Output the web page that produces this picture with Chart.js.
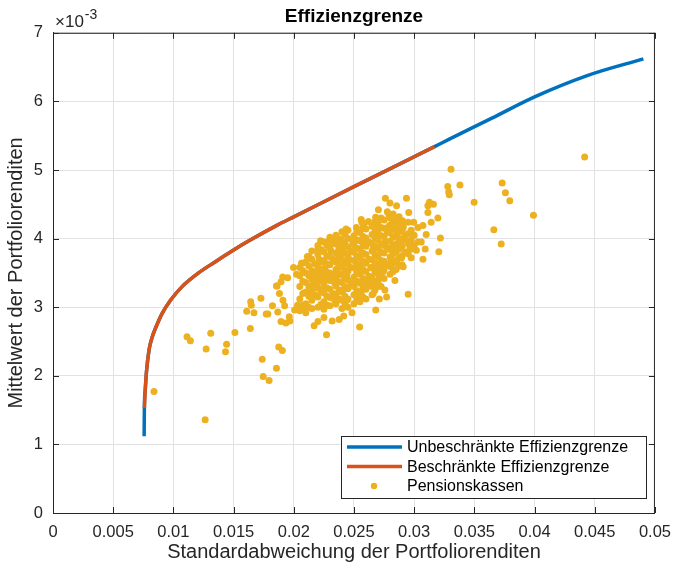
<!DOCTYPE html>
<html lang="de">
<head>
<meta charset="utf-8">
<title>Effizienzgrenze</title>
<script src="https://cdn.jsdelivr.net/npm/chart.js"></script>
<style>
  html, body { margin: 0; padding: 0; background: #fff; }
  #wrap { width: 681px; height: 564px; position: relative; }
</style>
</head>
<body>
<div id="wrap"><canvas id="chart"></canvas></div>
<script>
// Efficient frontier: sigma on x, mean return (in units of 1e-3) on y
const frontSigma = [0.00757, 0.00759, 0.00766, 0.00776, 0.00798, 0.00825, 0.00853, 0.00907, 0.00976, 0.01072,
                    0.01209, 0.01346, 0.01497, 0.0162, 0.01867, 0.02004, 0.02525, 0.03169, 0.03292, 0.0365,
                    0.04005, 0.04443, 0.04904];
const frontMu    = [1.12, 1.53, 1.79, 2.05, 2.38, 2.57, 2.70, 2.91, 3.10, 3.30,
                    3.50, 3.66, 3.83, 3.96, 4.20, 4.32, 4.78, 5.34, 5.45, 5.76,
                    6.07, 6.38, 6.62];

// constrained frontier (same curve, shorter range)
const constrSigma = [0.00759, 0.00766, 0.00776, 0.00798, 0.00825, 0.00853, 0.00907, 0.00976, 0.01072,
                     0.01209, 0.01346, 0.01497, 0.0162, 0.01867, 0.02004, 0.02525, 0.03169];
const constrMu    = [1.53, 1.79, 2.05, 2.38, 2.57, 2.70, 2.91, 3.10, 3.30,
                     3.50, 3.66, 3.83, 3.96, 4.20, 4.32, 4.78, 5.34];

// pension funds, outer points [sigma, mu]
const kassenRand = [
  [0.00839,1.77],[0.01264,1.36],[0.01113,2.57],[0.01141,2.51],[0.01310,2.62],[0.01272,2.39],[0.01442,2.46],
  [0.01433,2.35],[0.01511,2.63],[0.01639,2.69],[0.01738,2.24],[0.01746,1.99],[0.01795,1.93],[0.01856,2.11],
  [0.01875,2.42],[0.01905,2.37],[0.01727,3.13],[0.01609,2.94],[0.01669,2.92],[0.01642,3.08],[0.01647,3.03],
  [0.01771,2.90],[0.01785,2.90],[0.01823,3.02],[0.01867,2.93],[0.01856,3.31],[0.01881,3.20],[0.01910,3.10],
  [0.01924,3.02],[0.01894,2.79],[0.01935,2.77],[0.01963,2.86],[0.01968,2.80],[0.01998,3.58],[0.02023,3.48],
  [0.02031,3.03],[0.02081,2.99],[0.02007,2.96],[0.02064,3.64],[0.02113,3.74],[0.02169,2.73],[0.02201,2.79],
  [0.02272,2.60],[0.02251,2.85],[0.02319,2.80],[0.02377,2.82],[0.02415,2.87],[0.02484,2.92],[0.02547,2.71],
  [0.02681,2.96],[0.02711,3.12],[0.02771,3.15],[0.02950,3.19],[0.02840,3.39],[0.02757,3.25],[0.02621,3.37],
  [0.02593,3.35],[0.02695,3.54],[0.02744,3.52],[0.02807,3.59],[0.02909,3.59],[0.02854,3.65],[0.03073,3.70],
  [0.02895,3.72],[0.03018,3.83],[0.02963,3.85],[0.03092,3.85],[0.03205,3.81],[0.03032,3.95],[0.03059,3.95],
  [0.02963,3.92],[0.03218,4.01],[0.03100,4.06],[0.03032,4.16],[0.03073,4.19],[0.03141,4.24],[0.03197,4.30],
  [0.03114,4.38],[0.02955,4.38],[0.03127,4.53],[0.03160,4.50],[0.03114,4.48],[0.02936,4.59],[0.02761,4.59],
  [0.02799,4.52],[0.02854,4.48],[0.02703,4.42],[0.02777,4.39],[0.02790,4.35],[0.02566,4.24],[0.02903,4.26],
  [0.02950,4.24],[0.02996,4.24],[0.02434,4.14],[0.02223,3.97],[0.02305,3.91],[0.02393,3.98],[0.02127,3.74],
  [0.02072,3.64],[0.01894,3.37],[0.01861,3.31],[0.01908,3.44],[0.01949,3.43],[0.03279,4.76],[0.03287,4.68],
  [0.03292,4.64],[0.03306,5.01],[0.03380,4.78],[0.03498,4.53],[0.03731,4.81],[0.03758,4.67],[0.03794,4.55],
  [0.03991,4.34],[0.03662,4.13],[0.03723,3.92],[0.04416,5.19]
];

// pension funds, dense core [sigma, mu]
const kassenKern = [
  [0.0205,2.95],[0.0205,3.12],[0.0205,3.30],[0.0205,3.46],[0.0205,3.58],
  [0.0210,2.92],[0.0210,3.05],[0.0210,3.22],[0.0210,3.36],[0.0210,3.50],[0.0210,3.66],
  [0.0215,2.98],[0.0215,3.10],[0.0215,3.24],[0.0215,3.41],[0.0215,3.53],[0.0215,3.70],[0.0215,3.82],
  [0.0220,3.00],[0.0220,3.15],[0.0220,3.28],[0.0220,3.37],[0.0220,3.48],[0.0220,3.60],[0.0220,3.77],[0.0220,3.90],
  [0.0225,2.97],[0.0225,3.08],[0.0225,3.21],[0.0225,3.33],[0.0225,3.45],[0.0225,3.56],[0.0225,3.68],[0.0225,3.81],[0.0225,3.95],
  [0.0230,3.02],[0.0230,3.14],[0.0230,3.26],[0.0230,3.39],[0.0230,3.50],[0.0230,3.62],[0.0230,3.73],[0.0230,3.86],[0.0230,4.02],
  [0.0235,3.05],[0.0235,3.18],[0.0235,3.31],[0.0235,3.42],[0.0235,3.55],[0.0235,3.66],[0.0235,3.79],[0.0235,3.92],[0.0235,4.05],
  [0.0240,2.98],[0.0240,3.10],[0.0240,3.22],[0.0240,3.36],[0.0240,3.47],[0.0240,3.59],[0.0240,3.70],[0.0240,3.84],[0.0240,3.96],[0.0240,4.10],
  [0.0245,3.00],[0.0245,3.12],[0.0245,3.27],[0.0245,3.40],[0.0245,3.52],[0.0245,3.63],[0.0245,3.75],[0.0245,3.88],[0.0245,4.00],[0.0245,4.12],
  [0.0250,3.05],[0.0250,3.18],[0.0250,3.30],[0.0250,3.44],[0.0250,3.57],[0.0250,3.68],[0.0250,3.80],[0.0250,3.91],[0.0250,4.04],[0.0252,4.16],
  [0.0255,3.08],[0.0255,3.20],[0.0255,3.35],[0.0255,3.48],[0.0255,3.60],[0.0255,3.72],[0.0255,3.85],[0.0255,3.97],[0.0255,4.09],[0.0256,4.28],
  [0.0258,4.20],[0.0260,3.12],[0.0260,3.26],[0.0260,3.38],[0.0260,3.52],[0.0260,3.64],[0.0260,3.77],[0.0260,3.89],[0.0260,4.01],[0.0260,4.14],
  [0.0262,4.25],[0.0265,3.18],[0.0265,3.30],[0.0265,3.44],[0.0265,3.57],[0.0265,3.69],[0.0265,3.82],[0.0265,3.93],[0.0265,4.06],[0.0265,4.18],
  [0.0268,4.31],[0.0270,3.36],[0.0270,3.49],[0.0270,3.61],[0.0270,3.73],[0.0270,3.86],[0.0270,3.98],[0.0270,4.10],[0.0270,4.21],[0.0272,4.28],
  [0.0275,3.42],[0.0275,3.55],[0.0275,3.67],[0.0275,3.79],[0.0275,3.90],[0.0275,4.03],[0.0275,4.15],[0.0275,4.27],
  [0.0280,3.48],[0.0280,3.60],[0.0280,3.73],[0.0280,3.84],[0.0280,3.96],[0.0280,4.08],[0.0280,4.20],[0.0280,4.30],
  [0.0285,3.55],[0.0285,3.68],[0.0285,3.80],[0.0285,3.92],[0.0285,4.04],[0.0285,4.16],[0.0285,4.27],
  [0.0290,3.62],[0.0290,3.75],[0.0290,3.88],[0.0290,4.00],[0.0290,4.12],[0.0290,4.22],
  [0.0295,3.78],[0.0295,3.93],[0.0295,4.07],[0.0300,3.90],[0.0300,4.05],
  [0.02175,3.18],[0.02175,3.45],[0.02175,3.63],[0.02325,3.20],[0.02325,3.47],[0.02325,3.70],[0.02325,3.98],
  [0.02475,3.35],[0.02475,3.58],[0.02475,3.82],[0.02625,3.45],[0.02625,3.70],[0.02625,3.95],
  [0.02775,3.63],[0.02775,3.87],[0.02775,4.10],[0.02925,3.80],[0.02925,4.05]
];

// pension funds, dense core, in-between points [sigma, mu]
const kassenKern2 = [
  [0.02075,3.03],[0.02075,3.20],[0.02075,3.38],[0.02075,3.53],
  [0.02125,3.00],[0.02125,3.16],[0.02125,3.31],[0.02125,3.46],[0.02125,3.60],
  [0.02225,3.04],[0.02225,3.22],[0.02225,3.40],[0.02225,3.52],[0.02225,3.66],[0.02225,3.84],
  [0.02275,3.03],[0.02275,3.16],[0.02275,3.28],[0.02275,3.40],[0.02275,3.51],[0.02275,3.63],[0.02275,3.75],[0.02275,3.90],
  [0.02375,3.12],[0.02375,3.25],[0.02375,3.37],[0.02375,3.49],[0.02375,3.61],[0.02375,3.74],[0.02375,3.86],[0.02375,4.00],
  [0.02425,3.05],[0.02425,3.16],[0.02425,3.30],[0.02425,3.42],[0.02425,3.54],[0.02425,3.66],[0.02425,3.79],[0.02425,3.92],[0.02425,4.06],
  [0.02525,3.12],[0.02525,3.24],[0.02525,3.38],[0.02525,3.51],[0.02525,3.63],[0.02525,3.74],[0.02525,3.86],[0.02525,3.98],[0.02525,4.10],
  [0.02575,3.15],[0.02575,3.28],[0.02575,3.42],[0.02575,3.55],[0.02575,3.67],[0.02575,3.79],[0.02575,3.92],[0.02575,4.03],[0.02575,4.15],
  [0.02675,3.25],[0.02675,3.38],[0.02675,3.51],[0.02675,3.64],[0.02675,3.77],[0.02675,3.89],[0.02675,4.01],[0.02675,4.13],[0.02675,4.25],
  [0.02725,3.30],[0.02725,3.43],[0.02725,3.55],[0.02725,3.68],[0.02725,3.80],[0.02725,3.92],[0.02725,4.04],[0.02725,4.16],[0.02725,4.30],
  [0.02825,3.52],[0.02825,3.65],[0.02825,3.78],[0.02825,3.90],[0.02825,4.02],[0.02825,4.14],[0.02825,4.25],[0.02825,4.36],
  [0.02875,3.60],[0.02875,3.72],[0.02875,3.85],[0.02875,3.98],[0.02875,4.10],[0.02875,4.20],[0.02875,4.32],
  [0.02975,3.72],[0.02975,3.85],[0.02975,3.98],[0.02975,4.12]
];

// pension funds, dense core, extra filling [sigma, mu]
const kassenKern3 = [
  [0.02160,3.33],[0.02190,3.52],[0.02210,3.70],[0.02240,3.26],[0.02260,3.58],[0.02290,3.44],[0.02310,3.82],
  [0.02340,3.35],[0.02360,3.55],[0.02390,3.80],[0.02410,3.25],[0.02440,3.46],[0.02460,3.70],[0.02490,3.95],
  [0.02510,3.36],[0.02540,3.54],[0.02560,3.78],[0.02590,3.98],[0.02610,3.32],[0.02640,3.58],[0.02660,3.85],
  [0.02690,4.05],[0.02710,3.44],[0.02740,3.62],[0.02760,3.96],[0.02790,4.18],[0.02810,3.70],[0.02840,3.87],
  [0.02860,4.08],[0.02890,3.93],[0.02910,4.17],[0.02940,3.97],[0.02340,3.10],[0.02440,3.10],[0.02560,3.22],
  [0.02660,3.20],[0.02390,3.93],[0.02290,3.96],[0.02200,3.84],[0.02690,3.30]
];

const legendLabels = ['Unbeschränkte Effizienzgrenze', 'Beschränkte Effizienzgrenze', 'Pensionskassen'];
const colBlue = '#0072BD', colRed = '#D95319', colYellow = '#EDB120';
const axisCol = '#262626';
const fontFam = "'Liberation Sans', Arial, Helvetica, sans-serif";

Chart.defaults.font.family = fontFam;

function toPoints(xs, ys) {
  return xs.map((x, i) => ({ x: x, y: ys[i] }));
}
const kassenPts = kassenRand.concat(kassenKern, kassenKern2, kassenKern3).map(p => ({ x: p[0], y: p[1] }));

// box, inner ticks, exponent and legend (MATLAB look)
const matlabBox = {
  id: 'matlabBox',
  afterDraw(chart) {
    const ctx = chart.ctx;
    const a = chart.chartArea;
    const xs = chart.scales.x, ys = chart.scales.y;
    ctx.save();
    ctx.strokeStyle = axisCol;
    ctx.lineWidth = 1;
    ctx.beginPath();
    ctx.moveTo(a.left, a.top + 0.5); ctx.lineTo(a.right, a.top + 0.5);
    ctx.moveTo(a.right - 0.5, a.top); ctx.lineTo(a.right - 0.5, a.bottom);
    xs.ticks.forEach(t => {
      const p = Math.round(xs.getPixelForValue(t.value)) + 0.5;
      ctx.moveTo(p, a.bottom); ctx.lineTo(p, a.bottom - 6);
      ctx.moveTo(p, a.top); ctx.lineTo(p, a.top + 6);
    });
    ys.ticks.forEach(t => {
      const p = Math.round(ys.getPixelForValue(t.value)) + 0.5;
      ctx.moveTo(a.left, p); ctx.lineTo(a.left + 6, p);
      ctx.moveTo(a.right, p); ctx.lineTo(a.right - 6, p);
    });
    ctx.stroke();

    // x10^-3
    ctx.fillStyle = axisCol;
    ctx.textBaseline = 'alphabetic';
    ctx.textAlign = 'left';
    ctx.font = '17px ' + fontFam;
    ctx.fillText('\u00d710', a.left + 2, a.top - 6);
    const w = ctx.measureText('\u00d710').width;
    ctx.font = '14px ' + fontFam;
    ctx.fillText('-3', a.left + 3 + w, a.top - 14);

    // legend
    const lx = 341, ly = 436, lw = 305, lh = 62;
    ctx.fillStyle = '#fff';
    ctx.fillRect(lx, ly, lw, lh);
    ctx.strokeStyle = axisCol;
    ctx.strokeRect(lx + 0.5, ly + 0.5, lw, lh);
    const rows = [447, 466.5, 486];
    ctx.lineWidth = 3.5;
    ctx.strokeStyle = colBlue;
    ctx.beginPath(); ctx.moveTo(347, rows[0]); ctx.lineTo(402, rows[0]); ctx.stroke();
    ctx.strokeStyle = colRed;
    ctx.beginPath(); ctx.moveTo(347, rows[1]); ctx.lineTo(402, rows[1]); ctx.stroke();
    ctx.fillStyle = colYellow;
    ctx.beginPath(); ctx.arc(374, rows[2], 3.2, 0, Math.PI * 2); ctx.fill();
    ctx.fillStyle = '#000';
    ctx.font = '16px ' + fontFam;
    ctx.textBaseline = 'middle';
    legendLabels.forEach((s, i) => ctx.fillText(s, 407, rows[i] + 1));
    ctx.restore();
  }
};

new Chart(document.getElementById('chart'), {
  type: 'scatter',
  data: {
    datasets: [
      {
        label: legendLabels[0],
        data: toPoints(frontSigma, frontMu),
        showLine: true,
        borderColor: colBlue,
        borderWidth: 3.5,
        pointRadius: 0,
        cubicInterpolationMode: 'monotone',
        order: 3
      },
      {
        label: legendLabels[1],
        data: toPoints(constrSigma, constrMu),
        showLine: true,
        borderColor: colRed,
        borderWidth: 3.5,
        pointRadius: 0,
        cubicInterpolationMode: 'monotone',
        order: 2
      },
      {
        label: legendLabels[2],
        data: kassenPts,
        backgroundColor: colYellow,
        borderWidth: 0,
        pointRadius: 3.5,
        order: 1
      }
    ]
  },
  options: {
    responsive: true,
    maintainAspectRatio: false,
    animation: false,
    layout: { padding: { left: 0, right: 20, top: 0, bottom: 0 } },
    plugins: {
      legend: { display: false },
      tooltip: { enabled: false },
      title: {
        display: true,
        text: 'Effizienzgrenze',
        fullSize: false,
        color: '#000',
        font: { size: 19, weight: 'bold' },
        padding: { top: 5, bottom: 5 }
      }
    },
    scales: {
      x: {
        type: 'linear',
        min: 0,
        max: 0.05,
        afterFit(scale) { scale.height = 51; },
        border: { color: axisCol, width: 1 },
        grid: { color: '#e2e2e2', drawTicks: false },
        ticks: {
          stepSize: 0.005,
          autoSkip: false,
          maxRotation: 0,
          padding: 10,
          color: axisCol,
          font: { size: 16.5 },
          callback: v => String(Number(v.toFixed(4)))
        },
        title: {
          display: true,
          text: 'Standardabweichung der Portfoliorenditen',
          color: axisCol,
          font: { size: 20 },
          padding: { top: 0, bottom: 0 }
        }
      },
      y: {
        type: 'linear',
        min: 0,
        max: 7,
        afterFit(scale) { scale.width = 53; },
        border: { color: axisCol, width: 1 },
        grid: { color: '#e2e2e2', drawTicks: false },
        ticks: {
          stepSize: 1,
          padding: 10,
          color: axisCol,
          font: { size: 16.5 }
        },
        title: {
          display: true,
          text: 'Mittelwert der Portfoliorenditen',
          color: axisCol,
          font: { size: 20 },
          padding: { top: 4, bottom: 0 }
        }
      }
    }
  },
  plugins: [matlabBox]
});
</script>
</body>
</html>
